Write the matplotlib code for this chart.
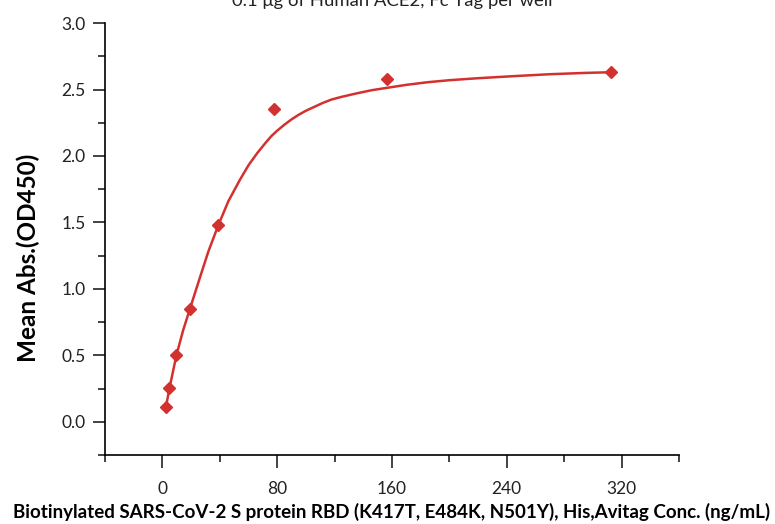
import numpy as np
import matplotlib
matplotlib.use('Agg')
import matplotlib.pyplot as plt
from matplotlib.ticker import MultipleLocator, FormatStrFormatter

plt.rcParams['font.family'] = ['Lato', 'DejaVu Sans']

# Measured points (two-fold dilution series)
conc = [2.44, 4.88, 9.77, 19.53, 39.06, 78.13, 156.25, 312.5]
od450 = [0.11, 0.255, 0.50, 0.85, 1.48, 2.35, 2.58, 2.63]

# Fitted curve
fit_x = [2.44, 4.88, 9.77, 14.5, 19.5, 26, 32, 39, 46, 54, 60, 66, 72, 76, 80,
         85, 90, 95, 100, 106, 112, 118, 125, 135, 146, 158, 170, 185, 200, 220,
         244, 270, 295, 312.5]
fit_y = [0.11, 0.25, 0.50, 0.69, 0.86, 1.08, 1.28, 1.48, 1.66, 1.82, 1.93, 2.02,
         2.10, 2.15, 2.19, 2.235, 2.275, 2.31, 2.34, 2.37, 2.40, 2.425, 2.445,
         2.47, 2.495, 2.515, 2.535, 2.555, 2.57, 2.585, 2.60, 2.615, 2.625, 2.63]

red = '#d3312f'

fig = plt.figure(figsize=(7.75, 5.24), dpi=100)
ax = fig.add_axes([0.1355, 0.1317, 0.7405, 0.8243])

ax.plot(fit_x, fit_y, color=red, lw=1.8, zorder=2)
ax.plot(conc, od450, linestyle='none', marker='D', color=red, markersize=6.5, zorder=3)

ax.set_xlim(-40, 360)
ax.set_ylim(-0.25, 3.0)
ax.xaxis.set_minor_locator(MultipleLocator(40))
ax.yaxis.set_minor_locator(MultipleLocator(0.25))
ax.set_xticks([0, 80, 160, 240, 320])
ax.set_yticks([0.0, 0.5, 1.0, 1.5, 2.0, 2.5, 3.0])
ax.yaxis.set_major_formatter(FormatStrFormatter('%.1f'))

for s in ['top', 'right']:
    ax.spines[s].set_visible(False)
for s in ['left', 'bottom']:
    ax.spines[s].set_linewidth(1.2)

ax.tick_params(axis='both', which='major', direction='out', length=9, width=1.2,
               labelsize=12.5, colors='#222222')
ax.tick_params(axis='both', which='minor', direction='out', length=5, width=1.2,
               colors='#222222')
ax.tick_params(axis='x', which='major', pad=10)
ax.tick_params(axis='y', which='major', pad=5)

ax.set_ylabel('Mean Abs.(OD450)', fontsize=17.5, fontweight='bold')
ax.yaxis.set_label_coords(-0.113, 0.457)
ax.set_xlabel('Biotinylated SARS-CoV-2 S protein RBD (K417T, E484K, N501Y), His,Avitag Conc. (ng/mL)',
              fontsize=13.5, fontweight='bold', labelpad=4)

fig.text(0.506, 0.998, '0.1 \u03bcg of Human ACE2, Fc Tag per well', ha='center', va='center',
         fontsize=13.3, color='#222222')

fig.savefig('out.png', dpi=100)
